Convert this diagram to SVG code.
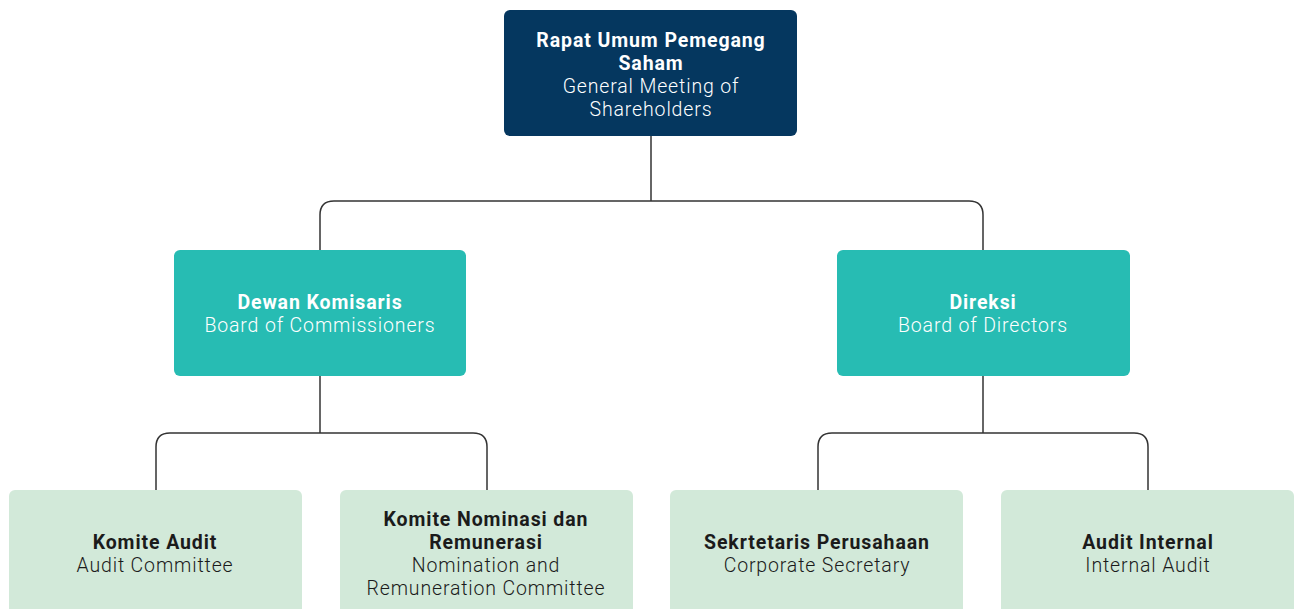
<svg xmlns="http://www.w3.org/2000/svg" width="1297" height="609" viewBox="0 0 1297 609">
  <style>
    .lbl { font-family: Roboto, "Liberation Sans", sans-serif; font-size: 19.5px; font-weight: 300; letter-spacing: 0.85px; text-anchor: middle; }
    .b { font-weight: bold; letter-spacing: 0.9px; }
    .light { fill: #ffffff; }
    .dark { fill: #1b1b1b; }
    .top { fill: #05375f; }
    .mid { fill: #27bcb3; }
    .low { fill: #d2e9d9; }
    .conn { fill: none; stroke: #333333; stroke-width: 1.5; }
  </style>
  <rect width="1297" height="609" fill="#ffffff"/>

  <g id="connectors">
    <path class="conn" d="M651 136 V201"/>
    <path class="conn" d="M320 250 V215 Q320 201 334 201 H969 Q983 201 983 215 V250"/>
    <path class="conn" d="M320 376 V433"/>
    <path class="conn" d="M156 490 V447 Q156 433 170 433 H473 Q487 433 487 447 V490"/>
    <path class="conn" d="M983 376 V433"/>
    <path class="conn" d="M818 490 V447 Q818 433 832 433 H1134 Q1148 433 1148 447 V490"/>
  </g>

  <g id="rups">
    <rect class="top" x="504" y="10" width="293" height="126" rx="6"/>
    <text class="lbl b light" x="651" y="47">Rapat Umum Pemegang</text>
    <text class="lbl b light" x="651" y="70">Saham</text>
    <text class="lbl light" x="651" y="93">General Meeting of</text>
    <text class="lbl light" x="651" y="116">Shareholders</text>
  </g>

  <g id="dewan-komisaris">
    <rect class="mid" x="174" y="250" width="292" height="126" rx="6"/>
    <text class="lbl b light" x="320" y="309">Dewan Komisaris</text>
    <text class="lbl light" x="320" y="332">Board of Commissioners</text>
  </g>

  <g id="direksi">
    <rect class="mid" x="837" y="250" width="293" height="126" rx="6"/>
    <text class="lbl b light" x="983" y="309">Direksi</text>
    <text class="lbl light" x="983" y="332">Board of Directors</text>
  </g>

  <g id="komite-audit">
    <rect class="low" x="9" y="490" width="293" height="130" rx="6"/>
    <text class="lbl b dark" x="155" y="549">Komite Audit</text>
    <text class="lbl dark" x="155" y="572">Audit Committee</text>
  </g>

  <g id="komite-nominasi">
    <rect class="low" x="340" y="490" width="293" height="130" rx="6"/>
    <text class="lbl b dark" x="486" y="526">Komite Nominasi dan</text>
    <text class="lbl b dark" x="486" y="549">Remunerasi</text>
    <text class="lbl dark" x="486" y="572">Nomination and</text>
    <text class="lbl dark" x="486" y="595">Remuneration Committee</text>
  </g>

  <g id="sekretaris">
    <rect class="low" x="670" y="490" width="293" height="130" rx="6"/>
    <text class="lbl b dark" x="817" y="549">Sekrtetaris Perusahaan</text>
    <text class="lbl dark" x="817" y="572">Corporate Secretary</text>
  </g>

  <g id="audit-internal">
    <rect class="low" x="1001" y="490" width="293" height="130" rx="6"/>
    <text class="lbl b dark" x="1148" y="549">Audit Internal</text>
    <text class="lbl dark" x="1148" y="572">Internal Audit</text>
  </g>
</svg>
